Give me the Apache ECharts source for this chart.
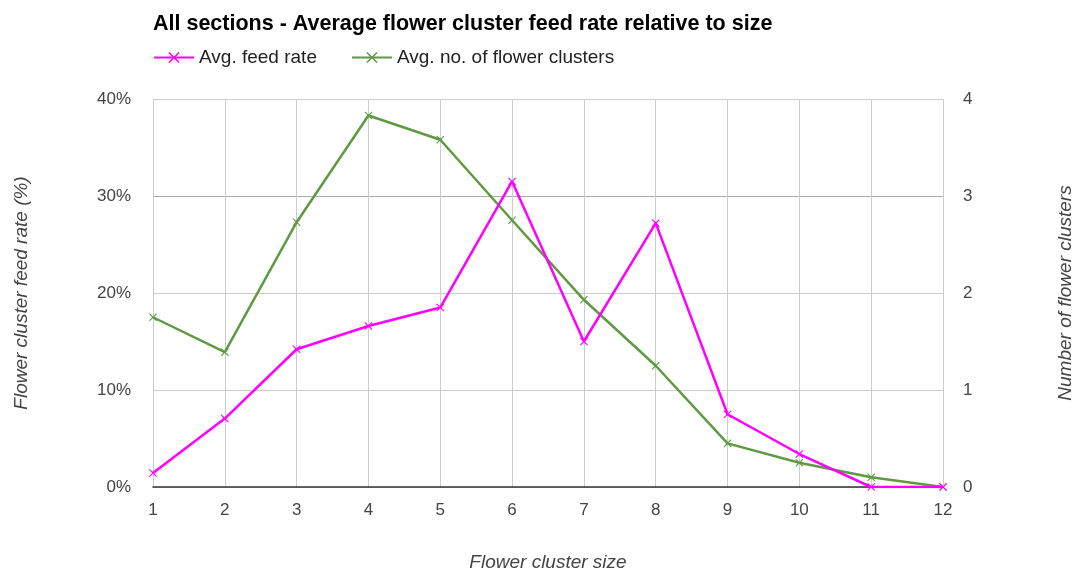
<!DOCTYPE html>
<html><head><meta charset="utf-8">
<script src="https://cdn.jsdelivr.net/npm/echarts@6/dist/echarts.min.js"></script>
<style>html,body{margin:0;padding:0;background:#fff}#c{width:1073px;height:572px}</style>
</head><body><div id="c"></div>
<script>
const categories = ['1','2','3','4','5','6','7','8','9','10','11','12'];
const feedRate = [1.45, 7.05, 14.2, 16.6, 18.5, 31.5, 15.0, 27.2, 7.5, 3.4, 0, 0];
const clusters = [1.75, 1.39, 2.73, 3.83, 3.58, 2.75, 1.93, 1.25, 0.45, 0.25, 0.10, 0];
const leftTicks = [0, 10, 20, 30, 40];
const rightTicks = [0, 1, 2, 3, 4];

const xSym = 'path://M0,1L1,0L5,4L9,0L10,1L6,5L10,9L9,10L5,6L1,10L0,9L4,5Z';
const font = 'Liberation Sans, Arial, sans-serif';
const chart = echarts.init(document.getElementById('c'));
chart.setOption({
  animation: false,
  textStyle: {fontFamily: font},
  title: {text: 'All sections - Average flower cluster feed rate relative to size', left: 148, top: 8,
    textStyle: {fontSize: 21.5, fontWeight: 'bold', color: '#000', fontFamily: font}},
  legend: {left: 148, top: 43, itemGap: 34, itemWidth: 40, itemHeight: 14,
    textStyle: {fontSize: 19, color: '#222', fontFamily: font},
    data: ['Avg. feed rate', 'Avg. no. of flower clusters']},
  grid: {left: 153, right: 130, top: 99, bottom: 85, outerBoundsMode: 'none', containLabel: false},
  xAxis: {type: 'category', data: categories, boundaryGap: false,
    name: 'Flower cluster size', nameLocation: 'middle', nameGap: 66,
    nameTextStyle: {fontStyle: 'italic', fontSize: 19, color: '#444'},
    axisLine: {lineStyle: {color: '#333', width: 1.5}},
    axisTick: {show: false},
    axisLabel: {fontSize: 17, color: '#444', margin: 15},
    splitLine: {show: true, lineStyle: {color: '#ccc'}}},
  yAxis: [
    {type: 'value', min: leftTicks[0], max: leftTicks[leftTicks.length-1], interval: 10,
     name: 'Flower cluster feed rate (%)', nameLocation: 'middle', nameGap: 122, nameRotate: 90,
     nameTextStyle: {fontStyle: 'italic', fontSize: 19, color: '#444'},
     axisLine: {show: false}, axisTick: {show: false},
     axisLabel: {fontSize: 17, color: '#444', margin: 22, formatter: '{value}%'},
     splitLine: {lineStyle: {color: ['#ccc', '#ccc', '#ccc', '#aaa', '#ccc']}}},
    {type: 'value', min: rightTicks[0], max: rightTicks[rightTicks.length-1], interval: 1,
     name: 'Number of flower clusters', nameLocation: 'middle', nameGap: 113, nameRotate: 90,
     nameTextStyle: {fontStyle: 'italic', fontSize: 19, color: '#444'},
     axisLine: {show: false}, axisTick: {show: false},
     axisLabel: {fontSize: 17, color: '#444', margin: 20},
     splitLine: {show: false}}
  ],
  series: [
    {name: 'Avg. feed rate', type: 'line', yAxisIndex: 0, data: feedRate,
     symbol: xSym, symbolSize: 8, showAllSymbol: true,
     lineStyle: {color: '#ff00ff', width: 2.5}, itemStyle: {color: '#ff00ff'}, z: 3},
    {name: 'Avg. no. of flower clusters', type: 'line', yAxisIndex: 1, data: clusters,
     symbol: xSym, symbolSize: 8, showAllSymbol: true,
     lineStyle: {color: '#5f9a43', width: 2.5}, itemStyle: {color: '#5f9a43'}, z: 2}
  ]
});
</script></body></html>
